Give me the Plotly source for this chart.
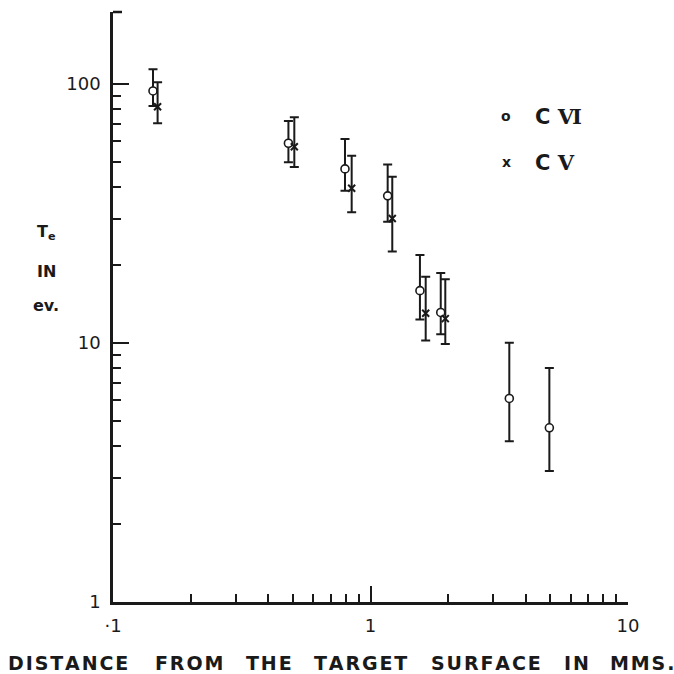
import plotly.graph_objects as go

# ---- data (log-log) ----
# C VI (open circles)
cvi_x = [0.143, 0.480, 0.796, 1.166, 1.556, 1.874, 3.46, 4.95]
cvi_y = [93.7, 58.9, 46.9, 36.9, 15.9, 13.1, 6.1, 4.7]
cvi_hi = [113.7, 71.8, 61.2, 48.8, 21.8, 18.6, 10.0, 8.0]
cvi_lo = [82.0, 49.7, 38.6, 29.3, 12.3, 10.8, 4.17, 3.2]

# C V (crosses)
cv_x = [0.149, 0.506, 0.845, 1.215, 1.638, 1.952]
cv_y = [81.5, 57.1, 39.5, 30.2, 13.0, 12.4]
cv_hi = [101.3, 74.2, 52.7, 43.7, 18.0, 17.6]
cv_lo = [70.3, 47.7, 31.9, 22.5, 10.2, 9.9]

x_tickvals = [0.1, 1, 10]
x_ticktext = ["·1", "1", "10"]
y_tickvals = [1, 10, 100]
y_ticktext = ["1", "10", "100"]
x_minor = [0.2, 0.3, 0.4, 0.5, 0.6, 0.7, 0.8, 0.9, 2, 3, 4, 5, 6, 7, 8, 9]
y_minor = [2, 3, 4, 5, 6, 7, 8, 9, 20, 30, 40, 50, 60, 70, 80, 90]

x_words = ["DISTANCE", "FROM", "THE", "TARGET", "SURFACE", "IN", "MMS."]
x_word_px = [68, 189, 269, 360, 486, 576, 642]

FONT = "DejaVu Sans"
INK = "#1a1a1a"

L, R, T, B = 113, 46, 12, 72
W = H = 674
PW = W - L - R
PH = H - T - B


def px_x(p):
    return (p - L) / PW


def px_y(p):
    return 1 - (p - T) / PH


fig = go.Figure()

fig.add_trace(go.Scatter(
    x=cvi_x, y=cvi_y, mode="markers", name="C VI",
    marker=dict(symbol="circle", size=8, color="white",
                line=dict(color=INK, width=1.6)),
    error_y=dict(type="data", symmetric=False,
                 array=[h - v for h, v in zip(cvi_hi, cvi_y)],
                 arrayminus=[v - l for v, l in zip(cvi_y, cvi_lo)],
                 color=INK, thickness=2, width=4.5),
    showlegend=False,
))

fig.add_trace(go.Scatter(
    x=cv_x, y=cv_y, mode="markers", name="C V",
    marker=dict(symbol="x-thin-open", size=7, color=INK,
                line=dict(color=INK, width=2)),
    error_y=dict(type="data", symmetric=False,
                 array=[h - v for h, v in zip(cv_hi, cv_y)],
                 arrayminus=[v - l for v, l in zip(cv_y, cv_lo)],
                 color=INK, thickness=2, width=4.5),
    showlegend=False,
))

axis_common = dict(
    type="log", showline=True, linecolor=INK, linewidth=2.5,
    showgrid=False, zeroline=False, ticks="inside", ticklen=16,
    tickwidth=2, tickcolor=INK, tickmode="array",
    tickfont=dict(family=FONT, size=18, color=INK),
)

fig.update_xaxes(
    **axis_common, range=[-1, 1],
    tickvals=x_tickvals, ticktext=x_ticktext, ticklabelstandoff=6,
    minor=dict(tickmode="array", tickvals=x_minor, ticks="inside",
               ticklen=8, tickwidth=2, tickcolor=INK, showgrid=False),
)
fig.update_yaxes(
    **axis_common, range=[0, 2.2765],
    tickvals=y_tickvals, ticktext=y_ticktext, ticklabelstandoff=6,
    minor=dict(tickmode="array", tickvals=y_minor, ticks="inside",
               ticklen=8, tickwidth=2, tickcolor=INK, showgrid=False),
)

# small cap at the top of the y axis
fig.add_shape(type="line", xref="paper", yref="paper",
              x0=0, x1=9 / PW, y0=1, y1=1,
              line=dict(color=INK, width=2.5))

annotations = []
# y-axis label (stacked)
for txt, py in [("T<sub>e</sub>", 232), ("IN", 271), ("ev.", 305)]:
    annotations.append(dict(text=txt, xref="paper", yref="paper",
                            x=px_x(46), y=px_y(py), showarrow=False,
                            xanchor="center", yanchor="middle",
                            font=dict(family=FONT, size=16, color=INK, weight="bold")))
# x-axis title, word by word with wide letter spacing
for w, p in zip(x_words, x_word_px):
    annotations.append(dict(text="\u200a".join(w), xref="paper", yref="paper",
                            x=px_x(p), y=px_y(663), showarrow=False,
                            xanchor="center", yanchor="middle",
                            font=dict(family=FONT, size=19, color=INK, weight="bold")))
# legend
legend_items = [("o", "C <span style='font-family:DejaVu Serif'>Ⅵ</span>", 116),
                ("x", "C <span style='font-family:DejaVu Serif'>Ⅴ</span>", 162)]
for sym, lab, py in legend_items:
    annotations.append(dict(text=sym, xref="paper", yref="paper",
                            x=px_x(506), y=px_y(py), showarrow=False,
                            xanchor="center", yanchor="middle",
                            font=dict(family=FONT, size=14, color=INK, weight="bold")))
    annotations.append(dict(text=lab, xref="paper", yref="paper",
                            x=px_x(533), y=px_y(py), showarrow=False,
                            xanchor="left", yanchor="middle",
                            font=dict(family=FONT, size=21, color=INK, weight="bold")))

fig.update_layout(
    width=W, height=H, autosize=False,
    margin=dict(l=L, r=R, t=T, b=B),
    paper_bgcolor="white", plot_bgcolor="white",
    annotations=annotations,
    font=dict(family=FONT, color=INK),
)

fig.write_html(
    "out.html",
    config={"displayModeBar": False},
    post_script="document.body.style.margin='0';document.body.style.padding='0';"
                "document.body.style.overflow='hidden';",
)
